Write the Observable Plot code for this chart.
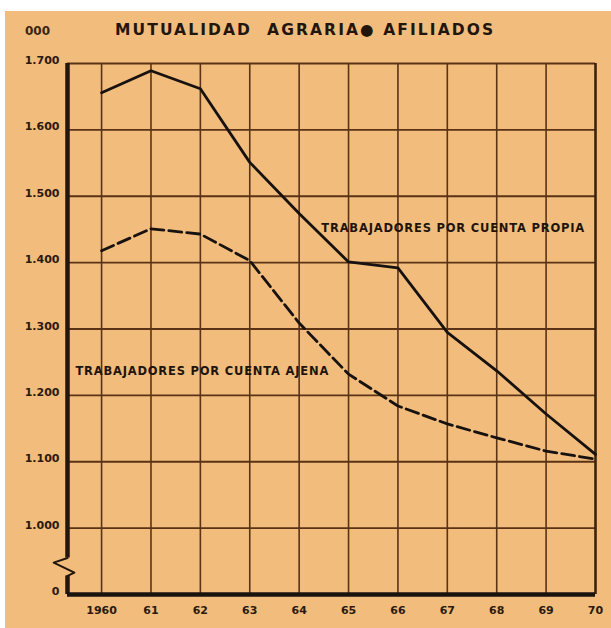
<!DOCTYPE html>
<html><head><meta charset="utf-8">
<script src="https://cdn.jsdelivr.net/npm/d3@7"></script>
<script src="https://cdn.jsdelivr.net/npm/@observablehq/plot@0.6"></script>
<style>
body{margin:0;background:#fff;width:611px;height:628px;overflow:hidden;position:relative;font-family:"DejaVu Sans",sans-serif}
#paper{position:absolute;left:5px;top:11px;right:0;bottom:0;background:#F2BD7C}
#units{position:absolute;left:25px;top:24px;font:bold 12px "DejaVu Sans",sans-serif;color:#3a2412}
#title{position:absolute;left:115px;top:21px;font:bold 15.5px "DejaVu Sans",sans-serif;letter-spacing:2.1px;color:#22160c;white-space:pre}
#chart{position:absolute;left:0;top:48px}
</style></head>
<body><div id="paper"></div><div id="units">000</div><div id="title">MUTUALIDAD  AGRARIA● AFILIADOS</div><div id="chart"></div>
<script>
const years = [1960,1961,1962,1963,1964,1965,1966,1967,1968,1969,1970];
const yearLabels = ["1960","61","62","63","64","65","66","67","68","69","70"];
const propia = [1656,1689,1662,1551,1474,1401,1392,1295,1237,1172,1111];
const ajena  = [1418,1451,1443,1403,1309,1232,1184,1157,1136,1116,1104];
const yTicks = [900,1000,1100,1200,1300,1400,1500,1600,1700];
const yTickLabels = ["0","1.000","1.100","1.200","1.300","1.400","1.500","1.600","1.700"];
const seriesNames = ["TRABAJADORES POR CUENTA PROPIA","TRABAJADORES POR CUENTA AJENA"];

const xMin = 1959.31, xMax = 1970, yMin = 900, yMax = 1700;
const rows = years.flatMap((yr,i)=>[
  {year:yr, value:propia[i], s:seriesNames[0]},
  {year:yr, value:ajena[i], s:seriesNames[1]}
]);
const grid = "#5a3216";
const ink = "#171210";
// axis-break zig-zag on the left axis (data units)
const axisBreak = [
  {x:xMin, y:955},{x:xMin-0.28, y:948},{x:xMin+0.14, y:933},{x:xMin, y:928}
];

const chart = Plot.plot({
  width:611, height:580,
  marginTop:15, marginBottom:34, marginLeft:67, marginRight:16,
  x:{domain:[xMin,xMax]},
  y:{domain:[yMin,yMax]},
  style:{background:"transparent", fontFamily:"DejaVu Sans, sans-serif"},
  marks:[
    Plot.ruleX(years,{y1:yMin,y2:yMax,stroke:grid,strokeWidth:1.6}),
    Plot.ruleY(yTicks.filter(d=>d>yMin),{x1:xMin,x2:xMax,stroke:grid,strokeWidth:1.8}),
    Plot.ruleX([xMax],{y1:yMin,y2:yMax,stroke:"#3a200e",strokeWidth:2.4}),
    Plot.ruleX([xMin],{y1:955,y2:yMax,stroke:"#24160c",strokeWidth:4.5}),
    Plot.ruleX([xMin],{y1:yMin,y2:928,stroke:"#24160c",strokeWidth:4.5}),
    Plot.line(axisBreak,{x:"x",y:"y",stroke:"#24160c",strokeWidth:2}),
    Plot.ruleY([yMin],{x1:xMin,x2:xMax,stroke:"#1a120c",strokeWidth:4.5}),
    Plot.line(rows.filter(d=>d.s===seriesNames[0]),{x:"year",y:"value",stroke:ink,strokeWidth:2.8}),
    Plot.line(rows.filter(d=>d.s===seriesNames[1]),{x:"year",y:"value",stroke:ink,strokeWidth:2.8,strokeDasharray:"13,5"}),
    Plot.text([seriesNames[0]],{x:1964.45,y:1451,text:d=>d,textAnchor:"start",fontSize:11.5,fontWeight:"bold",fill:"#1e140c"}),
    Plot.text([seriesNames[1]],{x:1959.47,y:1237,text:d=>d,textAnchor:"start",fontSize:11.5,fontWeight:"bold",fill:"#1e140c"}),
    Plot.axisY({ticks:yTicks,tickFormat:d=>yTickLabels[yTicks.indexOf(d)],tickSize:0,tickPadding:8,fontSize:11,fontWeight:"bold",dy:-3,fill:"#2a1a0e"}),
    Plot.axisX({ticks:years,tickFormat:d=>yearLabels[years.indexOf(d)],tickSize:0,tickPadding:12,fontSize:11,fontWeight:"bold",fill:"#2a1a0e"})
  ]
});
chart.querySelectorAll("text").forEach(t=>{ if(t.textContent.startsWith("TRABAJADORES")) t.setAttribute("letter-spacing","0.8"); });
document.getElementById("chart").appendChild(chart);
</script>
</body></html>
